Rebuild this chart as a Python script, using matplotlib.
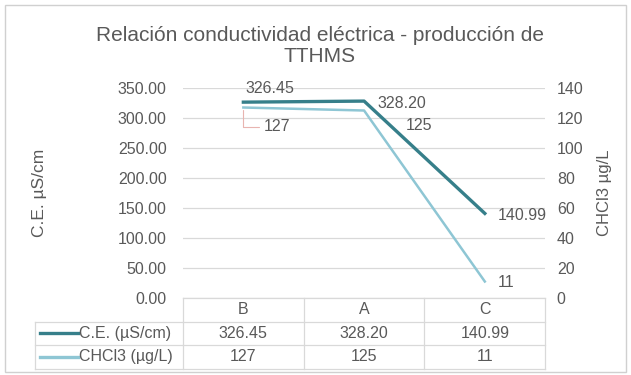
import matplotlib.pyplot as plt
from matplotlib.patches import Rectangle

plt.rcParams.update({
    "font.family": ["Liberation Sans", "DejaVu Sans"],
    "font.size": 11,
    "text.color": "#595959",
    "axes.edgecolor": "none",
})

categories = ["B", "A", "C"]
ce_values = [326.45, 328.20, 140.99]
chcl3_values = [127, 125, 11]
ce_labels = ["326.45", "328.20", "140.99"]
chcl3_labels = ["127", "125", "11"]
series_names = ["C.E. (µS/cm)", "CHCl3 (µg/L)"]

ce_color = "#367f8a"
chcl3_color = "#8ec6d4"
grid_color = "#d9d9d9"
text_color = "#595959"

fig = plt.figure(figsize=(6.31, 3.75), dpi=100)
fig.patches.append(Rectangle((0.008, 0.008), 0.984, 0.98, transform=fig.transFigure,
                             fill=False, edgecolor="#d0d0d0", linewidth=1))
ax = fig.add_axes([0.290, 0.2053, 0.574, 0.56])
ax2 = ax.twinx()

x = list(range(len(categories)))

ax.plot(x, ce_values, color=ce_color, linewidth=2.4, zorder=3)
ax2.plot(x, chcl3_values, color=chcl3_color, linewidth=1.8, zorder=2)

ax.set_xlim(-0.5, len(categories) - 0.5)
ax.set_ylim(0, 350)
ax.set_yticks(range(0, 351, 50))
ax.set_yticklabels([f"{v:.2f}" for v in range(0, 351, 50)])
ax2.set_ylim(0, 140)
ax2.set_yticks(range(0, 141, 20))
ax.set_xticks([])

for a in (ax, ax2):
    a.tick_params(axis="y", length=0, labelsize=11.5, labelcolor=text_color)
    for s in a.spines.values():
        s.set_visible(False)
ax.tick_params(axis="y", pad=11.7)
ax2.tick_params(axis="y", pad=8.4)

ax.grid(axis="y", color=grid_color, linewidth=0.9)
ax.set_axisbelow(True)

ax.set_ylabel("C.E. µS/cm", fontsize=12.5, color=text_color)
ax.yaxis.set_label_coords(-0.376, 0.5)
ax2.set_ylabel("CHCl3 µg/L", fontsize=12, color=text_color, rotation=90)
ax2.yaxis.set_label_coords(1.144, 0.5)

fig.suptitle("Relación conductividad eléctrica - producción de\nTTHMS",
             fontsize=15, color=text_color, x=0.507, y=0.93, linespacing=1.1)

# data labels (offsets in pixels)
ce_offsets = [(27, 14, "center"), (13, -2, "left"), (13, -2, "left")]
ch_offsets = [(20, -19, "left"), (68, -15, "right"), (13, -1, "left")]
for i, (v, lab) in enumerate(zip(ce_values, ce_labels)):
    dx, dy, ha = ce_offsets[i]
    ax.annotate(lab, (x[i], v), xytext=(dx, dy), textcoords="offset pixels",
                ha=ha, va="center", fontsize=11.5, color=text_color)
for i, (v, lab) in enumerate(zip(chcl3_values, chcl3_labels)):
    dx, dy, ha = ch_offsets[i]
    ax2.annotate(lab, (x[i], v), xytext=(dx, dy), textcoords="offset pixels",
                 ha=ha, va="center", fontsize=11.5, color=text_color)
# small leader line for the first CHCl3 label
ax2.annotate("", (x[0], chcl3_values[0]), xytext=(18, -19), textcoords="offset pixels",
             arrowprops=dict(arrowstyle="-", color="#e8b4b0", lw=0.8,
                             connectionstyle="angle,angleA=0,angleB=90,rad=0"))

# data table below the plot
row_h = 0.112
n = len(categories)
table_left = -0.409
line_kw = dict(color=grid_color, linewidth=0.9, transform=ax.transAxes, clip_on=False)
for j in range(n + 1):
    ax.plot([j / n, j / n], [0, -3 * row_h], **line_kw)
ax.plot([0, 1], [0, 0], **line_kw)
for r in range(1, 4):
    ax.plot([table_left, 1], [-r * row_h, -r * row_h], **line_kw)
ax.plot([table_left, table_left], [-row_h, -3 * row_h], **line_kw)

for j, cat in enumerate(categories):
    ax.text((j + 0.5) / n, -0.5 * row_h, cat, transform=ax.transAxes,
            ha="center", va="center", fontsize=11.5, color=text_color)

rows = [(series_names[0], ce_color, ce_labels), (series_names[1], chcl3_color, chcl3_labels)]
for r, (name, color, labels) in enumerate(rows):
    yc = -(r + 1.5) * row_h
    ax.plot([-0.395, -0.29], [yc, yc], color=color, linewidth=2.4,
            transform=ax.transAxes, clip_on=False)
    ax.text(-0.287, yc, name, transform=ax.transAxes, ha="left", va="center",
            fontsize=11.5, color=text_color)
    for j, lab in enumerate(labels):
        ax.text((j + 0.5) / n, yc, lab, transform=ax.transAxes,
                ha="center", va="center", fontsize=11.5, color=text_color)

plt.savefig("out.png", dpi=100, facecolor="white")
plt.close()
